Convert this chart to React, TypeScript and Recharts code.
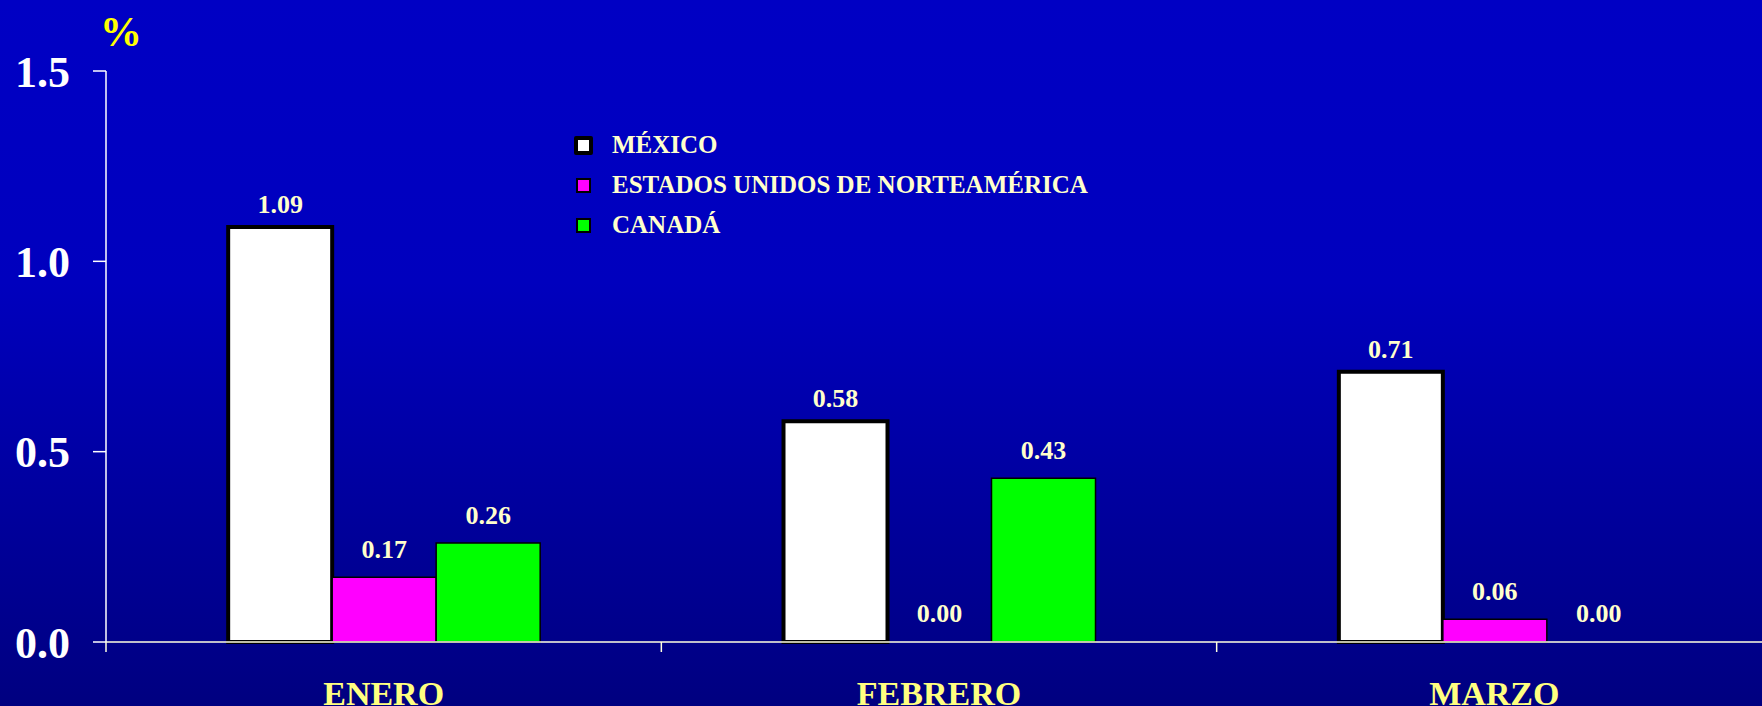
import React from 'react';
import { BarChart, Bar, XAxis, YAxis, LabelList, Legend, Rectangle } from 'recharts';

const months = ['ENERO', 'FEBRERO', 'MARZO'];
const mexico = [1.09, 0.58, 0.71];
const eeuu = [0.17, 0.0, 0.06];
const canada = [0.26, 0.43, 0.0];
const yTicks = [0, 0.5, 1.0, 1.5];

const seriesNames = ['MÉXICO', 'ESTADOS UNIDOS DE NORTEAMÉRICA', 'CANADÁ'];

const data = months.map((m, i) => ({
  month: m,
  mexico: mexico[i],
  eeuu: eeuu[i],
  canada: canada[i],
}));

const FONT = '"Liberation Serif", "Times New Roman", serif';
const PALE = '#FFFFCC';

const CHART_W = 1780;
const Y_W = 106;
const M_RIGHT = 8;
const X_TICK_SIZE = 10;
const X_TICK_MARGIN = 29;

const LegendContent = () => {
  const items = [
    { name: seriesNames[0], fill: '#FFFFFF', border: 4, size: 19 },
    { name: seriesNames[1], fill: '#FF00FF', border: 2, size: 15 },
    { name: seriesNames[2], fill: '#00FF00', border: 2, size: 15 },
  ];
  return (
    <div style={{ fontFamily: FONT }}>
      {items.map((it) => (
        <div key={it.name} style={{ display: 'flex', alignItems: 'center', height: 40 }}>
          <div style={{ width: 20, display: 'flex', justifyContent: 'center' }}>
            <div
              style={{
                width: it.size,
                height: it.size,
                boxSizing: 'border-box',
                border: `${it.border}px solid #000`,
                borderRadius: it.border > 2 ? 2 : 0,
                background: it.fill,
              }}
            />
          </div>
          <span
            style={{
              marginLeft: 19,
              color: PALE,
              fontSize: 25,
              fontWeight: 'bold',
              whiteSpace: 'nowrap',
              lineHeight: '40px',
            }}
          >
            {it.name}
          </span>
        </div>
      ))}
    </div>
  );
};

const XTick = (props: any) => {
  const { x, y, payload } = props;
  const half =
    payload && typeof payload.offset === 'number' && payload.offset > 0
      ? payload.offset
      : (CHART_W - Y_W - M_RIGHT) / months.length / 2;
  const lineTop = y - X_TICK_SIZE - X_TICK_MARGIN;
  return (
    <g>
      <line
        x1={x - half}
        x2={x - half}
        y1={lineTop}
        y2={lineTop + X_TICK_SIZE}
        stroke="#FFFFE0"
        strokeWidth={1.5}
      />
      <text
        x={x}
        y={y}
        dy="0.71em"
        textAnchor="middle"
        fill="#FFFF80"
        fontSize={34}
        fontWeight="bold"
        fontFamily={FONT}
      >
        {payload.value}
      </text>
    </g>
  );
};

const labelStyle = { fill: PALE, fontSize: 26, fontWeight: 'bold', fontFamily: FONT } as const;
const fmt2 = (v: any) => Number(v).toFixed(2);

const makeShape = (key: string) => (props: any) => {
  const v = props && props.payload ? props.payload[key] : props.value;
  if (!v) return <g />;
  return <Rectangle {...props} />;
};

export default function App() {
  return (
    <div
      style={{
        position: 'fixed',
        left: 0,
        top: 0,
        width: 1762,
        height: 706,
        overflow: 'hidden',
        background: 'linear-gradient(to bottom, #0000C4 0%, #0000BE 40%, #000080 100%)',
        fontFamily: FONT,
      }}
    >
      <div
        style={{
          position: 'absolute',
          left: 100,
          top: 8,
          color: '#FFFF00',
          fontSize: 42,
          fontWeight: 'bold',
          lineHeight: '48px',
        }}
      >
        %
      </div>
      <BarChart
        width={CHART_W}
        height={706}
        data={data}
        margin={{ top: 71, right: M_RIGHT, bottom: 0, left: 0 }}
        barCategoryGap="22%"
        barGap={0}
      >
        <XAxis
          dataKey="month"
          height={64}
          axisLine={{ stroke: '#FFFFE0', strokeWidth: 1.5 }}
          tickLine={false}
          tickSize={X_TICK_SIZE}
          tickMargin={X_TICK_MARGIN}
          tick={<XTick />}
          interval={0}
        />
        <YAxis
          width={Y_W}
          domain={[0, 1.5]}
          ticks={yTicks}
          tickFormatter={(v: number) => v.toFixed(1)}
          axisLine={{ stroke: '#FFFFFF', strokeWidth: 1.5 }}
          tickLine={{ stroke: '#FFFFFF', strokeWidth: 1.5 }}
          tickSize={13}
          tickMargin={23}
          tick={{ fill: '#FFFFFF', fontSize: 44, fontWeight: 'bold', fontFamily: FONT }}
          interval={0}
        />
        <Legend
          verticalAlign="middle"
          align="center"
          layout="vertical"
          content={<LegendContent />}
          wrapperStyle={{ position: 'absolute', left: 573, top: 125, width: 'auto', height: 'auto' }}
        />
        <Bar dataKey="mexico" name={seriesNames[0]} fill="#FFFFFF" stroke="#000000" strokeWidth={4} isAnimationActive={false}>
          <LabelList dataKey="mexico" position="top" offset={14} formatter={fmt2} style={labelStyle} />
        </Bar>
        <Bar
          dataKey="eeuu"
          name={seriesNames[1]}
          fill="#FF00FF"
          stroke="#000000"
          strokeWidth={1.5}
          minPointSize={1}
          shape={makeShape('eeuu')}
          isAnimationActive={false}
        >
          <LabelList dataKey="eeuu" position="top" offset={19} formatter={fmt2} style={labelStyle} />
        </Bar>
        <Bar
          dataKey="canada"
          name={seriesNames[2]}
          fill="#00FF00"
          stroke="#000000"
          strokeWidth={1.5}
          minPointSize={1}
          shape={makeShape('canada')}
          isAnimationActive={false}
        >
          <LabelList dataKey="canada" position="top" offset={19} formatter={fmt2} style={labelStyle} />
        </Bar>
      </BarChart>
    </div>
  );
}
